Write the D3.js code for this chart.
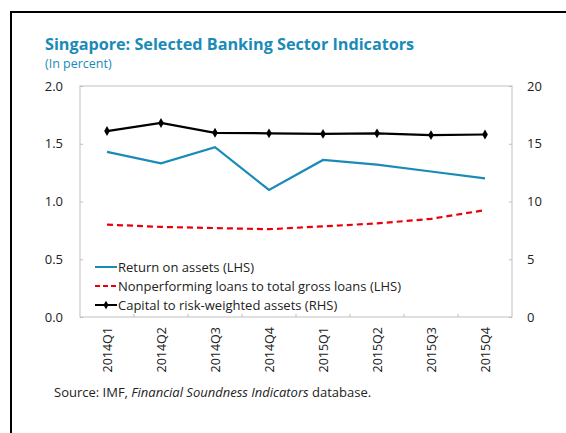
<!DOCTYPE html>
<html>
<head>
<meta charset="utf-8">
<script src="https://cdn.jsdelivr.net/npm/d3@7"></script>
<style>
  body { margin: 0; background: #fff; }
  text { font-family: "Open Sans", "Noto Sans", sans-serif; }
</style>
</head>
<body>
<script>
var quarters = ["2014Q1", "2014Q2", "2014Q3", "2014Q4", "2015Q1", "2015Q2", "2015Q3", "2015Q4"];
var roa = [1.43, 1.33, 1.47, 1.10, 1.36, 1.32, 1.26, 1.20];
var npl = [0.80, 0.78, 0.77, 0.76, 0.785, 0.81, 0.85, 0.925];
var car = [16.1, 16.8, 15.95, 15.9, 15.85, 15.9, 15.75, 15.8];
var leftTicks = [0, 0.5, 1.0, 1.5, 2.0];
var rightTicks = [0, 5, 10, 15, 20];

var width = 566, height = 433;
var margin = { top: 86, right: 54, bottom: 116, left: 80 };

var svg = d3.select("body").append("svg")
    .attr("width", width)
    .attr("height", height);

// page frame
svg.append("path")
    .attr("d", "M11,433 L11,12 L566,12")
    .attr("fill", "none")
    .attr("stroke", "#000")
    .attr("stroke-width", 2);

svg.append("text")
    .attr("x", 45).attr("y", 50)
    .attr("font-size", 16.2).attr("font-weight", "bold")
    .attr("fill", "#1a8ab8")
    .text("Singapore: Selected Banking Sector Indicators");

svg.append("text")
    .attr("x", 45).attr("y", 68)
    .attr("font-size", 12.5)
    .attr("fill", "#1a8ab8")
    .text("(In percent)");

var x = d3.scaleBand()
    .domain(quarters)
    .range([margin.left, width - margin.right]);

var yL = d3.scaleLinear().domain([0, 2]).range([height - margin.bottom, margin.top]);
var yR = d3.scaleLinear().domain([0, 20]).range([height - margin.bottom, margin.top]);

var plotW = width - margin.right - margin.left;
var plotH = height - margin.bottom - margin.top;

// plot border
svg.append("rect")
    .attr("x", margin.left).attr("y", margin.top)
    .attr("width", plotW).attr("height", plotH)
    .attr("fill", "none")
    .attr("stroke", "#bfbfbf");

// left axis
var gl = svg.append("g")
    .attr("transform", "translate(" + margin.left + ",0)")
    .call(d3.axisRight(yL).tickValues(leftTicks).tickFormat(d3.format(".1f")).tickSize(3));
gl.select(".domain").remove();
gl.selectAll("line").attr("stroke", "#bfbfbf");
gl.selectAll("text")
    .attr("x", -17).attr("text-anchor", "end")
    .attr("font-size", 13).attr("fill", "#222")
    .style("font-family", "'Open Sans', sans-serif");

// right axis
var gr = svg.append("g")
    .attr("transform", "translate(" + (width - margin.right) + ",0)")
    .call(d3.axisLeft(yR).tickValues(rightTicks).tickSize(3));
gr.select(".domain").remove();
gr.selectAll("line").attr("stroke", "#bfbfbf");
gr.selectAll("text")
    .attr("x", 15).attr("text-anchor", "start")
    .attr("font-size", 13).attr("fill", "#222")
    .style("font-family", "'Open Sans', sans-serif");

// bottom ticks between categories
svg.append("g").selectAll("line")
    .data(quarters.slice(1))
    .enter().append("line")
    .attr("x1", function (d) { return x(d); })
    .attr("x2", function (d) { return x(d); })
    .attr("y1", height - margin.bottom)
    .attr("y2", height - margin.bottom - 3)
    .attr("stroke", "#bfbfbf");

// x labels
svg.append("g").selectAll("text")
    .data(quarters)
    .enter().append("text")
    .attr("transform", function (d) {
        return "translate(" + (x(d) + x.bandwidth() / 2 + 5) + "," + (height - margin.bottom + 10) + ") rotate(-90)";
    })
    .attr("text-anchor", "end")
    .attr("font-size", 12.5)
    .attr("fill", "#222")
    .text(function (d) { return d; });

var cx = function (d, i) { return x(quarters[i]) + x.bandwidth() / 2; };

svg.append("path")
    .datum(roa)
    .attr("fill", "none")
    .attr("stroke", "#1a8ab8")
    .attr("stroke-width", 2.2)
    .attr("d", d3.line().x(cx).y(function (d) { return yL(d); }));

svg.append("path")
    .datum(npl)
    .attr("fill", "none")
    .attr("stroke", "#e8000b")
    .attr("stroke-width", 2.2)
    .attr("stroke-dasharray", "6,4")
    .attr("d", d3.line().x(cx).y(function (d) { return yL(d); }));

svg.append("path")
    .datum(car)
    .attr("fill", "none")
    .attr("stroke", "#000")
    .attr("stroke-width", 2.2)
    .attr("d", d3.line().x(cx).y(function (d) { return yR(d); }));

svg.append("g").selectAll("path")
    .data(car)
    .enter().append("path")
    .attr("d", d3.symbol().type(d3.symbolDiamond).size(28))
    .attr("transform", function (d, i) { return "translate(" + cx(d, i) + "," + yR(d) + ")"; })
    .attr("fill", "#000");

// legend
var legend = [
    { label: "Return on assets (LHS)", color: "#1a8ab8", dash: null, marker: false },
    { label: "Nonperforming loans to total gross loans (LHS)", color: "#e8000b", dash: "5,3", marker: false },
    { label: "Capital to risk-weighted assets (RHS)", color: "#000", dash: null, marker: true }
];
var lg = svg.append("g").selectAll("g")
    .data(legend)
    .enter().append("g")
    .attr("transform", function (d, i) { return "translate(95," + (267 + i * 19) + ")"; });
lg.append("line")
    .attr("x1", 0).attr("x2", 22)
    .attr("stroke", function (d) { return d.color; })
    .attr("stroke-width", 2)
    .attr("stroke-dasharray", function (d) { return d.dash; });
lg.filter(function (d) { return d.marker; }).append("path")
    .attr("d", d3.symbol().type(d3.symbolDiamond).size(22))
    .attr("transform", "translate(11,0)")
    .attr("fill", "#000");
lg.append("text")
    .attr("x", 23).attr("y", 4.5)
    .attr("font-size", 13)
    .attr("fill", "#222")
    .text(function (d) { return d.label; });

// source
var src = svg.append("text")
    .attr("x", 54).attr("y", 397)
    .attr("font-size", 13)
    .attr("fill", "#222");
src.append("tspan").text("Source: IMF, ");
src.append("tspan").attr("font-style", "italic").text("Financial Soundness Indicators");
src.append("tspan").text(" database.");
</script>
</body>
</html>
